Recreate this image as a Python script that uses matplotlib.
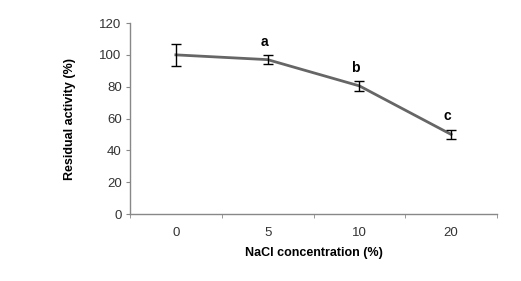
import numpy as np
import matplotlib
matplotlib.use('Agg')
import matplotlib.pyplot as plt
from matplotlib.ticker import FixedLocator

plt.rcParams['font.family'] = ['Liberation Sans', 'DejaVu Sans']

# data
nacl = ['0', '5', '10', '20']
activity = [100, 97, 80.5, 50]
err = [7, 3, 3, 3]
letters = ['', 'a', 'b', 'c']

fig = plt.figure(figsize=(5.21, 2.81), dpi=100)
ax = fig.add_axes([0.2495, 0.2384, 0.7045, 0.6796])

x = np.arange(len(nacl))
ax.plot(x, activity, color='#666666', lw=2)
ax.errorbar(x, activity, yerr=err, fmt='none', ecolor='black', elinewidth=1, capsize=3.5, capthick=1)

for xi, yi, e, lab in zip(x, activity, err, letters):
    if lab:
        ax.text(xi - 0.04, yi + e + 4, lab, ha='center', va='bottom', fontsize=10, fontweight='bold')

ax.set_xlim(-0.5, len(nacl) - 0.5)
ax.set_ylim(0, 120)
ax.set_yticks(range(0, 121, 20))
ax.set_xticks(x)
ax.set_xticklabels(nacl)
ax.xaxis.set_minor_locator(FixedLocator(np.arange(-0.5, len(nacl), 1.0)))
ax.tick_params(axis='x', which='major', length=0, pad=9, labelsize=9.5, labelcolor='#333333')
ax.tick_params(axis='x', which='minor', length=3, color='#888888')
ax.tick_params(axis='y', length=3, color='#888888', labelsize=9.5, labelcolor='#333333', pad=3)

for s in ['top', 'right']:
    ax.spines[s].set_visible(False)
for s in ['left', 'bottom']:
    ax.spines[s].set_color('#888888')
    ax.spines[s].set_linewidth(1)

ax.set_xlabel('NaCl concentration (%)', fontsize=9, fontweight='bold', labelpad=6)
ax.set_ylabel('Residual activity (%)', fontsize=9, fontweight='bold', labelpad=17)

fig.savefig('out.png', dpi=100)
